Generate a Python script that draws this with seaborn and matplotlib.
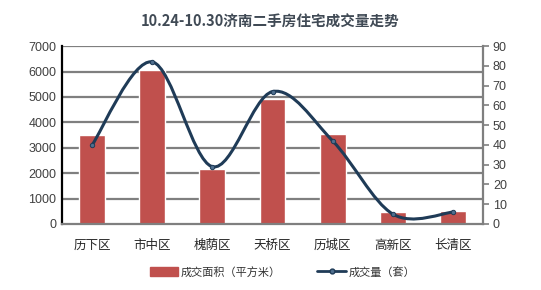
import numpy as np
import pandas as pd
import seaborn as sns
import matplotlib.pyplot as plt
from matplotlib.path import Path
from matplotlib.patches import PathPatch, Patch
from matplotlib.lines import Line2D

districts = ["历下区", "市中区", "槐荫区", "天桥区", "历城区", "高新区", "长清区"]
area = [3500, 6050, 2160, 4920, 3540, 470, 500]   # 成交面积（平方米）
units = [40, 82, 29, 67, 42, 5, 6]                # 成交量（套）

sns.set_style("white")
plt.rcParams['font.family'] = ['Noto Sans CJK SC', 'DejaVu Sans']

bar_color = "#C0504D"
line_color = "#1F3B57"
grid_color = "#7F7F7F"

fig = plt.figure(figsize=(5.41, 2.90), dpi=100)
ax = fig.add_axes([0.1146, 0.2276, 0.7784, 0.6134])

df = pd.DataFrame({"district": districts, "area": area, "units": units})
sns.barplot(data=df, x="district", y="area", color=bar_color, width=0.43,
            saturation=1, ax=ax, zorder=2)
ax.set_ylim(0, 7000)
ax.set_xlim(-0.5, len(districts) - 0.5)
ax.set_yticks(range(0, 7001, 1000))
ax.set_xlabel("")
ax.set_ylabel("")
for y in range(1000, 7001, 1000):
    ax.axhline(y, color=grid_color, lw=1.6, zorder=1)
ax.tick_params(axis="y", labelsize=9, colors="#404040", length=0, pad=4)
ax.tick_params(axis="x", labelsize=9, colors="#262626", length=0, pad=11)
for lab in ax.get_yticklabels():
    lab.set_fontfamily(["Liberation Sans", "DejaVu Sans"])
ax.spines["left"].set_color("black")
ax.spines["left"].set_linewidth(1.6)
ax.spines["bottom"].set_color(grid_color)
ax.spines["bottom"].set_linewidth(1.6)
ax.spines["top"].set_visible(False)
ax.spines["right"].set_visible(False)

ax2 = ax.twinx()
ax2.set_ylim(0, 90)
ax2.set_yticks(range(0, 91, 10))
ax2.tick_params(axis="y", labelsize=9, colors="#404040", length=4, width=1.2,
                direction="out", pad=3)
for lab in ax2.get_yticklabels():
    lab.set_fontfamily(["Liberation Sans", "DejaVu Sans"])
    lab.set_color("#404040")
ax2.tick_params(axis="y", color=grid_color)
for s in ["left", "top", "bottom"]:
    ax2.spines[s].set_visible(False)
ax2.spines["right"].set_color(grid_color)
ax2.spines["right"].set_linewidth(1.6)

# smoothed line (Catmull-Rom style Bezier through the data points)
xs = np.arange(len(units), dtype=float)
ys = np.array(units, dtype=float)
verts = [(xs[0], ys[0])]
codes = [Path.MOVETO]
t = 1 / 6
for i in range(len(xs) - 1):
    p0 = (xs[max(i - 1, 0)], ys[max(i - 1, 0)])
    p1 = (xs[i], ys[i])
    p2 = (xs[i + 1], ys[i + 1])
    p3 = (xs[min(i + 2, len(xs) - 1)], ys[min(i + 2, len(xs) - 1)])
    c1 = (p1[0] + (p2[0] - p0[0]) * t, p1[1] + (p2[1] - p0[1]) * t)
    c2 = (p2[0] - (p3[0] - p1[0]) * t, p2[1] - (p3[1] - p1[1]) * t)
    verts += [c1, c2, p2]
    codes += [Path.CURVE4] * 3
ax2.add_patch(PathPatch(Path(verts, codes), fill=False, edgecolor=line_color,
                        lw=2.2, capstyle="round", zorder=3))
sns.scatterplot(data=df, x=np.arange(len(districts)), y="units", ax=ax2,
                color="#4F6F8F", edgecolor=line_color, s=10, linewidth=0.7,
                zorder=4, legend=False)
ax2.set_ylabel("")

fig.text(0.5, 0.925, "10.24-10.30济南二手房住宅成交量走势", ha="center",
         va="center", fontsize=10.5, fontweight="bold", color="#404A55")

handles = [Patch(facecolor=bar_color, edgecolor=bar_color),
           Line2D([0], [0], color=line_color, lw=2.0, marker="o",
                  markersize=3.5, markerfacecolor="#4F6F8F",
                  markeredgecolor=line_color)]
fig.legend(handles, ["成交面积（平方米）", "成交量（套）"], loc="center",
           bbox_to_anchor=(0.522, 0.062), ncol=2, frameon=False, fontsize=8,
           handlelength=2.6, handleheight=0.9, columnspacing=3.3,
           handletextpad=0.2, labelcolor="#333333")

fig.savefig("out.png", dpi=100, facecolor="white")
